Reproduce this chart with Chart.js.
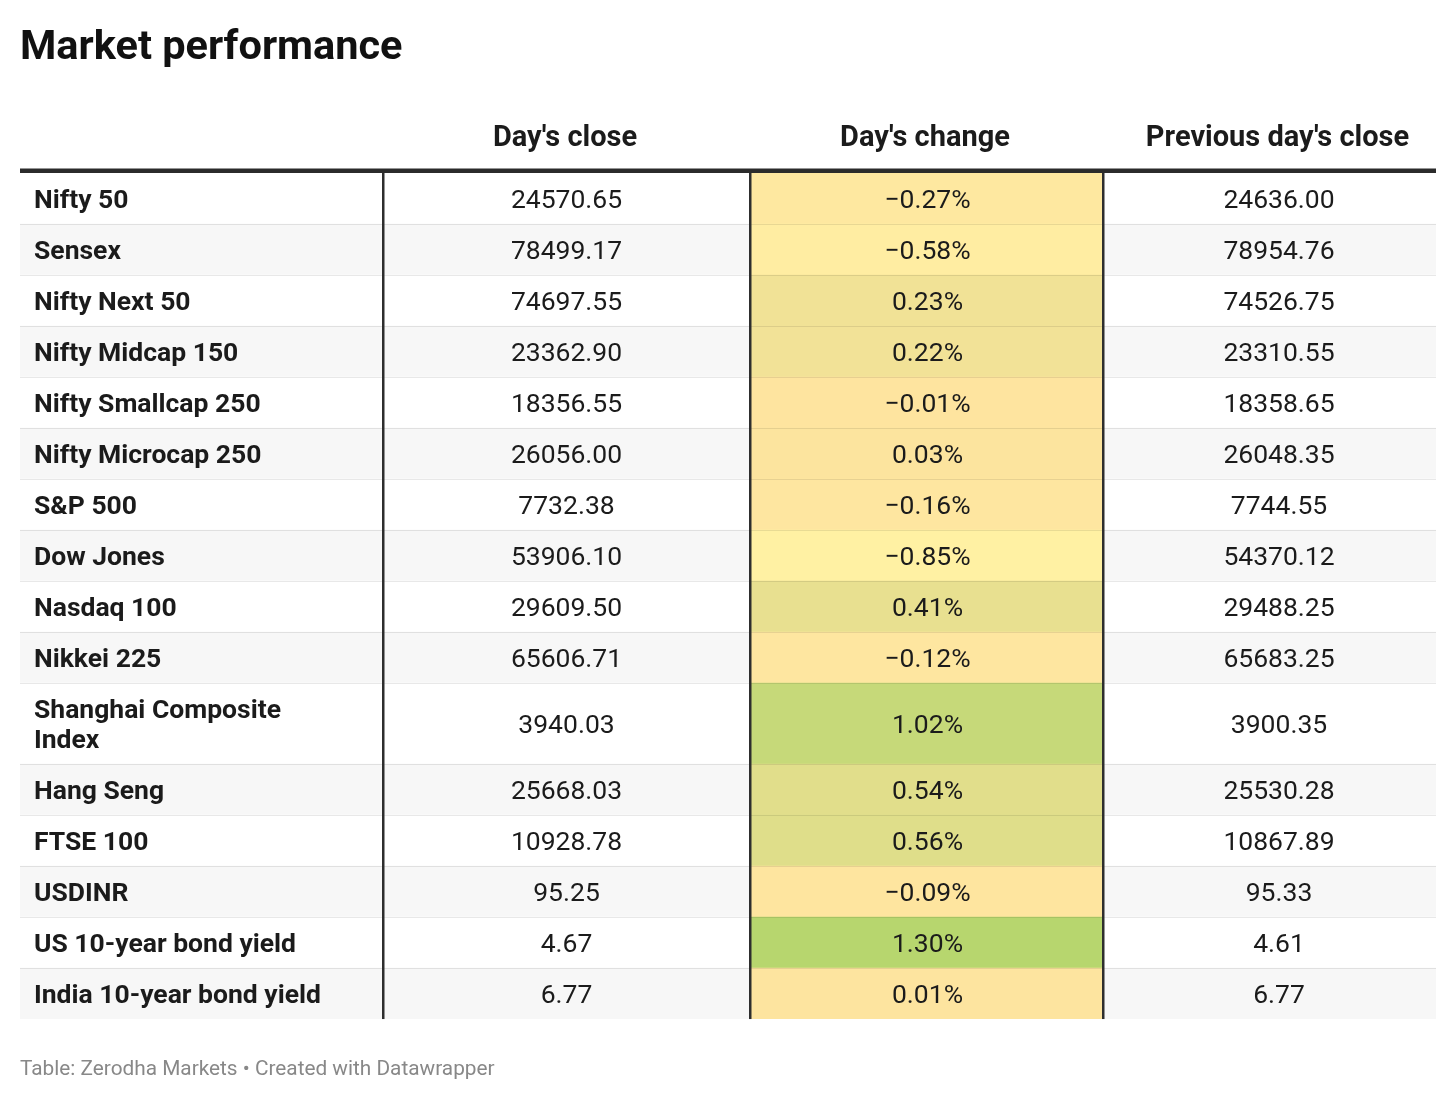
<!DOCTYPE html>
<html>
<head>
<meta charset="utf-8">
<title>Market performance</title>
<script src="https://cdn.jsdelivr.net/npm/chart.js@4.4.1/dist/chart.umd.min.js"></script>
<style>
  html, body { margin: 0; padding: 0; background: #ffffff; }
  #wrap { width: 1456px; height: 1101px; position: relative; }
</style>
</head>
<body>
<div id="wrap"><canvas id="marketTable"></canvas></div>
<script>
// ---------- Data ----------
const tableTitle = 'Market performance';
const tableSource = 'Table: Zerodha Markets • Created with Datawrapper';
const columnHeads = ['', "Day's close", "Day's change", "Previous day's close"];

// row labels, already split into the lines they wrap to
const indexNames = [
  ['Nifty 50'], ['Sensex'], ['Nifty Next 50'], ['Nifty Midcap 150'],
  ['Nifty Smallcap 250'], ['Nifty Microcap 250'], ['S&P 500'], ['Dow Jones'],
  ['Nasdaq 100'], ['Nikkei 225'], ['Shanghai Composite', 'Index'], ['Hang Seng'],
  ['FTSE 100'], ['USDINR'], ['US 10-year bond yield'], ['India 10-year bond yield']
];
const dayClose = [
  24570.65, 78499.17, 74697.55, 23362.90, 18356.55, 26056.00, 7732.38, 53906.10,
  29609.50, 65606.71, 3940.03, 25668.03, 10928.78, 95.25, 4.67, 6.77
];
const dayChange = [
  -0.27, -0.58, 0.23, 0.22, -0.01, 0.03, -0.16, -0.85,
  0.41, -0.12, 1.02, 0.54, 0.56, -0.09, 1.30, 0.01
];
const prevClose = [
  24636.00, 78954.76, 74526.75, 23310.55, 18358.65, 26048.35, 7744.55, 54370.12,
  29488.25, 65683.25, 3900.35, 25530.28, 10867.89, 95.33, 4.61, 6.77
];

// ---------- Layout (table units = px) ----------
const TABLE_W = 1416;
const colEdges = [0, 363, 730, 1083, 1416];
const textCenters = [14, 546.5, 907.5, 1259];
const headCenters = [14, 545, 905, 1257.5];
const LINE_H = 30;
const ROW_PAD = 21;
const FONT = 'Roboto, "Open Sans", sans-serif';
const INK = '#1b1b1b';

const rowTop = [];
const rowBottom = [];
let acc = 0;
indexNames.forEach(lines => {
  rowTop.push(acc);
  acc += ROW_PAD + LINE_H * lines.length;
  rowBottom.push(acc);
});
const TABLE_H = acc;

// ---------- Helpers ----------
function mix(a, b, t) {
  return a.map((v, k) => Math.round(v + (b[k] - v) * t));
}

// colour scale of the "Day's change" column: pale yellow -> amber -> green
function changeColor(v) {
  const lo = [255, 241, 163], mid = [254, 228, 159], hi = [183, 214, 110];
  const minV = Math.min(...dayChange), maxV = Math.max(...dayChange);
  const c = v < 0 ? mix(mid, lo, v / minV) : mix(mid, hi, v / maxV);
  return 'rgb(' + c.join(',') + ')';
}

function fmtNum(v) { return v.toFixed(2); }
function fmtPct(v) { return (v < 0 ? '\u2212' : '') + Math.abs(v).toFixed(2) + '%'; }

function pxSpan(chart, w) {
  const x = chart.scales && chart.scales.x;
  if (!x || !isFinite(x.getPixelForValue(w))) return w;
  return Math.abs(x.getPixelForValue(w) - x.getPixelForValue(0));
}

// ---------- Plugin: rules, headers and cell text ----------
const tableText = {
  id: 'tableText',
  afterDatasetsDraw(chart) {
    const { ctx, scales: { x, y } } = chart;
    const top = y.getPixelForValue(0);
    const bottom = y.getPixelForValue(TABLE_H);
    const left = x.getPixelForValue(0);
    const right = x.getPixelForValue(TABLE_W);
    ctx.save();

    // light row separators
    ctx.strokeStyle = 'rgba(0,0,0,0.09)';
    ctx.lineWidth = 1;
    for (let i = 1; i < rowTop.length; i++) {
      const py = Math.round(y.getPixelForValue(rowTop[i])) + 0.5;
      ctx.beginPath();
      ctx.moveTo(left, py);
      ctx.lineTo(right, py);
      ctx.stroke();
    }

    // dark column rules
    ctx.fillStyle = '#2e2e2e';
    for (let c = 1; c < colEdges.length - 1; c++) {
      const px = x.getPixelForValue(colEdges[c]);
      ctx.fillRect(px - 1, top, 2.5, bottom - top);
    }

    // heavy rule under the header
    ctx.fillStyle = '#2b2b2b';
    ctx.fillRect(left, top - 4.5, right - left, 4.5);

    // header labels
    ctx.fillStyle = INK;
    ctx.textAlign = 'center';
    ctx.textBaseline = 'alphabetic';
    ctx.font = 'bold 29px ' + FONT;
    columnHeads.forEach((h, c) => {
      if (!h) return;
      ctx.fillText(h, x.getPixelForValue(headCenters[c]), top - 27);
    });

    // body cells
    indexNames.forEach((lines, i) => {
      const mid = (y.getPixelForValue(rowTop[i]) + y.getPixelForValue(rowBottom[i])) / 2;
      const base = mid + 9.4;

      ctx.font = 'bold 26.5px ' + FONT;
      ctx.textAlign = 'left';
      lines.forEach((ln, k) => {
        const off = (k - (lines.length - 1) / 2) * LINE_H;
        ctx.fillText(ln, x.getPixelForValue(textCenters[0]), base + off);
      });

      ctx.font = '26.5px ' + FONT;
      ctx.textAlign = 'center';
      ctx.fillText(fmtNum(dayClose[i]), x.getPixelForValue(textCenters[1]), base);
      ctx.fillText(fmtPct(dayChange[i]), x.getPixelForValue(textCenters[2]), base);
      ctx.fillText(fmtNum(prevClose[i]), x.getPixelForValue(textCenters[3]), base);
    });

    ctx.restore();
  }
};

// ---------- Chart ----------
const changeMid = (colEdges[2] + colEdges[3]) / 2;

new Chart(document.getElementById('marketTable'), {
  type: 'bar',
  data: {
    datasets: [
      {
        label: 'Rows',
        data: indexNames.map((_, i) => ({ x: TABLE_W / 2, y: [rowTop[i], rowBottom[i]] })),
        backgroundColor: indexNames.map((_, i) => (i % 2 ? '#f7f7f7' : '#ffffff')),
        barThickness: ctx => pxSpan(ctx.chart, TABLE_W),
        grouped: false,
        order: 2
      },
      {
        label: "Day's change",
        data: dayChange.map((_, i) => ({ x: changeMid, y: [rowTop[i], rowBottom[i]] })),
        backgroundColor: dayChange.map(changeColor),
        barThickness: ctx => pxSpan(ctx.chart, colEdges[3] - colEdges[2]),
        grouped: false,
        order: 1
      }
    ]
  },
  options: {
    responsive: true,
    maintainAspectRatio: false,
    animation: false,
    events: [],
    layout: { padding: { left: 20, right: 20, top: 0, bottom: 0 } },
    scales: {
      x: { type: 'linear', min: 0, max: TABLE_W, offset: false, display: false },
      y: { type: 'linear', min: 0, max: TABLE_H, reverse: true, display: false }
    },
    plugins: {
      legend: { display: false },
      tooltip: { enabled: false },
      title: {
        display: true,
        text: tableTitle,
        align: 'start',
        color: '#111111',
        font: { family: FONT, size: 41.5, weight: 'bold', lineHeight: 1.2 },
        padding: { top: 24, bottom: 99.2 }
      },
      subtitle: {
        display: true,
        position: 'bottom',
        text: tableSource,
        align: 'start',
        color: '#888888',
        font: { family: FONT, size: 20.8, weight: 'normal', lineHeight: 1.2 },
        padding: { top: 38, bottom: 19 }
      }
    }
  },
  plugins: [tableText]
});
</script>
</body>
</html>
